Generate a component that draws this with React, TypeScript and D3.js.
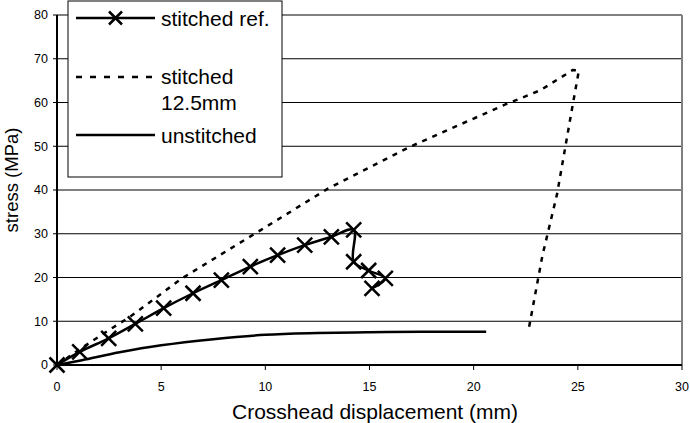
import * as d3 from "d3";

/* ------------------------------------------------------------------ */
/*  Data                                      */
/* ------------------------------------------------------------------ */

const REF_X = [0, 1.09, 2.48, 3.76, 5.12, 6.53, 7.89, 9.28, 10.59, 11.89, 13.17, 14.24, 14.24, 14.96, 15.76, 15.12];
const REF_Y = [0, 3.0, 6.1, 9.4, 13.0, 16.4, 19.4, 22.5, 25.1, 27.4, 29.3, 30.9, 23.6, 21.6, 19.8, 17.5];

const S125_X = [0, 1.0, 2.5, 3.5, 6.0, 9.8, 13.0, 17.0, 21.5, 23.2, 24.75, 25.05, 24.7, 24.0, 23.3, 22.65];
const S125_Y = [0, 3.3, 8.0, 11.0, 19.8, 30.9, 40.3, 50.0, 59.5, 62.8, 67.4, 67.3, 58.0, 39.0, 25.0, 8.4];

const UNST_X = [0, 1.2, 3.0, 5.0, 7.5, 10.0, 12.5, 15.0, 17.5, 20.6];
const UNST_Y = [0, 1.1, 2.9, 4.5, 5.9, 6.9, 7.3, 7.5, 7.6, 7.6];

const X_TICKS = [0, 5, 10, 15, 20, 25, 30];
const Y_TICKS = [0, 10, 20, 30, 40, 50, 60, 70, 80];

const LEGEND = ["stitched ref.", "stitched 12.5mm", "unstitched"];

/* ------------------------------------------------------------------ */
/*  Theme                                                              */
/* ------------------------------------------------------------------ */

const W = 690;
const H = 423;
const FONT = "'Liberation Sans', Arial, sans-serif";
const INK = "#000";
const FRAME = "#808080";

const margin = { left: 57, right: 8, top: 15, bottom: 58 };

export default function App() {
  const x = d3.scaleLinear().domain([0, 30]).range([margin.left, W - margin.right]);
  const y = d3.scaleLinear().domain([0, 80]).range([H - margin.bottom, margin.top]);

  const zip = (xs: number[], ys: number[]) => xs.map((v, i) => [v, ys[i]] as [number, number]);
  const refPts = zip(REF_X, REF_Y);
  const s125Pts = zip(S125_X, S125_Y);
  const unstPts = zip(UNST_X, UNST_Y);

  const line = d3
    .line<[number, number]>()
    .x((d) => x(d[0]))
    .y((d) => y(d[1]))
    .curve(d3.curveCatmullRom.alpha(0.5));

  const straight = d3
    .line<[number, number]>()
    .x((d) => x(d[0]))
    .y((d) => y(d[1]));

  const cross = (cx: number, cy: number, r: number) =>
    `M${cx - r},${cy - r}L${cx + r},${cy + r}M${cx - r},${cy + r}L${cx + r},${cy - r}`;

  const [x0, x1] = x.range();
  const [y0, y1] = y.range();

  /* legend geometry */
  const lg = { x: 68, y: 1, w: 214, h: 176, lx0: 76, lx1: 155, tx: 161 };
  const rows = [18, 77, 135];

  return (
    <svg
      width={W}
      height={H}
      style={{ position: "absolute", left: 0, top: 0, background: "#fff" }}
      fontFamily={FONT}
    >
      {/* gridlines */}
      {Y_TICKS.filter((t) => t > 0 && t < 80).map((t) => (
        <line key={t} x1={x0} x2={x1} y1={y(t)} y2={y(t)} stroke={INK} strokeWidth={1} />
      ))}

      {/* plot frame top / right */}
      <line x1={x0} x2={x1} y1={y1} y2={y1} stroke={FRAME} strokeWidth={2} />
      <line x1={x1} x2={x1} y1={y1} y2={y0} stroke={FRAME} strokeWidth={2} />

      {/* axes */}
      <line x1={x0} x2={x0} y1={y1} y2={y0} stroke={INK} strokeWidth={2} />
      <line x1={x0} x2={x1} y1={y0} y2={y0} stroke={INK} strokeWidth={2} />

      {Y_TICKS.map((t) => (
        <g key={t}>
          <line x1={x0 - 4} x2={x0} y1={y(t)} y2={y(t)} stroke={INK} strokeWidth={1} />
          <text x={x0 - 9} y={y(t)} dy="0.35em" textAnchor="end" fontSize={12.5} fill={INK}>
            {t}
          </text>
        </g>
      ))}
      {X_TICKS.map((t) => (
        <g key={t}>
          <line x1={x(t)} x2={x(t)} y1={y0} y2={y0 + 5} stroke={INK} strokeWidth={1} />
          <text x={x(t)} y={y0 + 26} textAnchor="middle" fontSize={12.5} fill={INK}>
            {t}
          </text>
        </g>
      ))}

      {/* axis titles */}
      <text x={375} y={418.5} textAnchor="middle" fontSize={21} fill={INK}>
        Crosshead displacement (mm)
      </text>
      <text
        transform={`translate(18,180) rotate(-90)`}
        textAnchor="middle"
        fontSize={18.5}
        fill={INK}
      >
        stress (MPa)
      </text>

      {/* series */}
      <path d={line(unstPts) ?? ""} fill="none" stroke={INK} strokeWidth={2.5} />
      <path
        d={straight(s125Pts) ?? ""}
        fill="none"
        stroke={INK}
        strokeWidth={2.5}
        strokeDasharray="5 6"
      />
      <path d={line(refPts) ?? ""} fill="none" stroke={INK} strokeWidth={2.5} />
      {refPts.map((d, i) => (
        <path key={i} d={cross(x(d[0]), y(d[1]), 7.5)} stroke={INK} strokeWidth={2.5} fill="none" />
      ))}

      {/* legend */}
      <rect x={lg.x} y={lg.y} width={lg.w} height={lg.h} fill="#fff" stroke={INK} strokeWidth={1} />
      <line x1={lg.lx0} x2={lg.lx1} y1={rows[0]} y2={rows[0]} stroke={INK} strokeWidth={2.5} />
      <path d={cross((lg.lx0 + lg.lx1) / 2, rows[0], 6.5)} stroke={INK} strokeWidth={2.5} />
      <text x={lg.tx} y={rows[0] + 8} fontSize={21} fill={INK}>
        {LEGEND[0]}
      </text>

      <line
        x1={lg.lx0}
        x2={lg.lx1}
        y1={rows[1]}
        y2={rows[1]}
        stroke={INK}
        strokeWidth={2.5}
        strokeDasharray="6 8"
      />
      <text x={lg.tx} y={rows[1] + 7} fontSize={21} fill={INK}>
        {LEGEND[1].split(" ")[0]}
        <tspan x={lg.tx} dy={25.5}>
          {LEGEND[1].split(" ")[1]}
        </tspan>
      </text>

      <line x1={lg.lx0} x2={lg.lx1} y1={rows[2]} y2={rows[2]} stroke={INK} strokeWidth={2.5} />
      <text x={lg.tx} y={rows[2] + 8} fontSize={21} fill={INK}>
        {LEGEND[2]}
      </text>
    </svg>
  );
}
